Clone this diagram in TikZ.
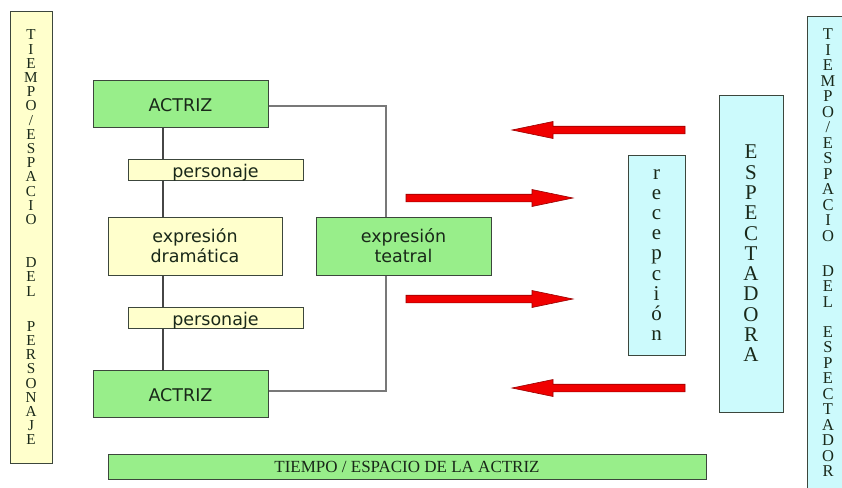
\documentclass[tikz,border=0pt]{standalone}
\usepackage{fontspec}
\setmainfont{Liberation Serif}
\newfontfamily\sansf{DejaVu Sans}
\definecolor{boxgreen}{RGB}{152,238,138}
\definecolor{boxyellow}{RGB}{255,255,204}
\definecolor{boxcyan}{RGB}{204,250,252}
\definecolor{edgecol}{RGB}{60,70,60}
\definecolor{txtcol}{RGB}{25,40,25}
\definecolor{linecol}{RGB}{120,120,120}
\definecolor{spinecol}{RGB}{70,70,70}
\definecolor{arrfill}{RGB}{240,0,0}
\definecolor{arredge}{RGB}{150,0,0}
\newcommand\redarr[4]{% tail x, head base x, tip x, y
  \fill[arrfill, draw=arredge, line width=0.6pt, line join=miter]
    (#1,#4-3.8) -- (#2,#4-3.8) -- (#2,#4-8.5) -- (#3,#4) -- (#2,#4+8.5) -- (#2,#4+3.8) -- (#1,#4+3.8) -- cycle;}
\begin{document}
\begin{tikzpicture}[x=1pt,y=-1pt,
  base/.style={draw=edgecol, line width=1pt, inner sep=0pt, text=txtcol},
  gbox/.style={base, fill=boxgreen, font=\sansf\fontsize{17.5}{20}\selectfont, align=center},
  ybox/.style={base, fill=boxyellow, font=\sansf\fontsize{17.5}{20}\selectfont, align=center},
  cbox/.style={base, fill=boxcyan, align=center},
  colbox/.style={base, align=center},
  conn/.style={draw=linecol, line width=1.1pt},
  spine/.style={draw=spinecol, line width=1.1pt}
]
\useasboundingbox (0,0) rectangle (842,487);

% side columns
\node[colbox, fill=boxyellow, minimum width=42pt, minimum height=451pt,
      font=\fontsize{15.2}{14.2}\selectfont] (colL) at (31,237.5)
  {T\\I\\E\\M\\P\\O\\/\\E\\S\\P\\A\\C\\I\\O\\[29pt]D\\E\\L\\[21pt]P\\E\\R\\S\\O\\N\\A\\J\\E};
\node[colbox, fill=boxcyan, minimum width=42pt, minimum height=472pt,
      font=\fontsize{16.5}{15.5}\selectfont] (colR) at (828,253)
  {T\\I\\E\\M\\P\\O\\/\\E\\S\\P\\A\\C\\I\\O\\[19.5pt]D\\E\\L\\[14.5pt]E\\S\\P\\E\\C\\T\\A\\D\\O\\R};

% left structure
\node[gbox, minimum width=175pt, minimum height=47pt, text height=16.4pt, text depth=0pt] (a1) at (180.5,103.5) {ACTRIZ};
\node[ybox, minimum width=175pt, minimum height=21pt, text height=15.6pt, text depth=0pt] (p1) at (215.5,169.5) {personaje};
\node[ybox, minimum width=174pt, minimum height=58pt] (dram) at (195,246) {expresión\\dramática};
\node[ybox, minimum width=175pt, minimum height=21pt, text height=15pt, text depth=0pt] (p2) at (215.5,317.5) {personaje};
\node[gbox, minimum width=175pt, minimum height=47pt, text height=16.4pt, text depth=0pt] (a2) at (180.5,393.5) {ACTRIZ};
\node[gbox, minimum width=175pt, minimum height=58pt] (teat) at (403.5,246) {expresión\\teatral};

\node[base, fill=boxgreen, minimum width=598pt, minimum height=25pt,
      font=\fontsize{17}{18}\selectfont] (bar) at (407,466.5) {TIEMPO / ESPACIO DE LA ACTRIZ};

% right structure
\node[cbox, minimum width=57pt, minimum height=200pt, font=\fontsize{21}{20.1}\selectfont] (rec) at (656.5,255)
  {r\\e\\c\\e\\p\\c\\i\\ó\\n};
\node[cbox, minimum width=64pt, minimum height=317pt, font=\fontsize{21}{20.3}\selectfont] (esp) at (751,253.5)
  {E\\S\\P\\E\\C\\T\\A\\D\\O\\R\\A};

% connectors
\coordinate (sp) at (163,0);
\coordinate (tr) at (386,0);
\draw[spine] (a1.south -| sp) -- (p1.north -| sp);
\draw[spine] (p1.south -| sp) -- (dram.north -| sp);
\draw[spine] (dram.south -| sp) -- (p2.north -| sp);
\draw[spine] (p2.south -| sp) -- (a2.north -| sp);
\draw[conn] ([yshift=-2.5pt]a1.east) -- ([yshift=-2.5pt]a1.east -| tr) -- (teat.north -| tr);
\draw[conn] ([yshift=2.5pt]a2.east) -- ([yshift=2.5pt]a2.east -| tr) -- (teat.south -| tr);

% red arrows
\redarr{685}{553}{512}{130}
\redarr{406}{532}{573}{198}
\redarr{406}{532}{573}{299}
\redarr{685}{553}{512}{388}
\end{tikzpicture}
\end{document}
